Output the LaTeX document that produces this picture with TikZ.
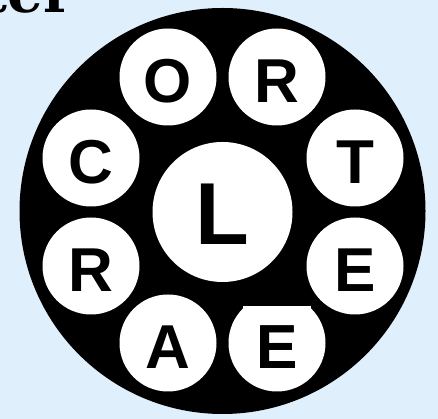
\documentclass[tikz,border=0pt]{standalone}
\usepackage{fontspec}
\setmainfont{Liberation Sans}
\newfontfamily\slabfont{DejaVu Serif}
\usepackage{xcolor}
\definecolor{bgblue}{RGB}{223,240,252}

\begin{document}
\begin{tikzpicture}[x=1pt,y=1pt,
    disc/.style={circle,fill=white,minimum size=97pt,inner sep=0pt,font=\fontsize{62}{62}\selectfont\bfseries,text height=52pt,text depth=0pt},
]
\clip (0,0) rectangle (438,419);
\fill[bgblue] (0,0) rectangle (438,419);
\node[font=\slabfont\fontsize{56}{56}\selectfont\bfseries,anchor=base east,inner sep=0pt] (ttl) at (73,406) {ter};
\node[circle,fill=black,minimum size=406pt,inner sep=0pt] (ring) at (222.5,208) {};
\node[disc,minimum size=140pt,font=\fontsize{88}{88}\selectfont\bfseries,text height=66pt] (cl) at (222.5,207) {L};
\node[disc] (o)  at (168,342) {O};
\node[disc] (r1) at (277,342) {R};
\node[disc] (c)  at (91,261)  {C};
\node[disc] (t)  at (355,261) {T};
\node[disc] (r2) at (91,153)  {R};
\node[disc] (e1) at (355,153) {E};
\node[disc] (a)  at (168,76)  {A};
\node[disc] (e2) at (277,76)  {E};
\fill[black] (243,113) rectangle (311,128);
\fill[white] (243,113) rectangle (311,104);
\node[font=\fontsize{62}{62}\selectfont\bfseries,text height=52pt,text depth=0pt,inner sep=0pt] at (e2) {E};
\end{tikzpicture}
\end{document}
